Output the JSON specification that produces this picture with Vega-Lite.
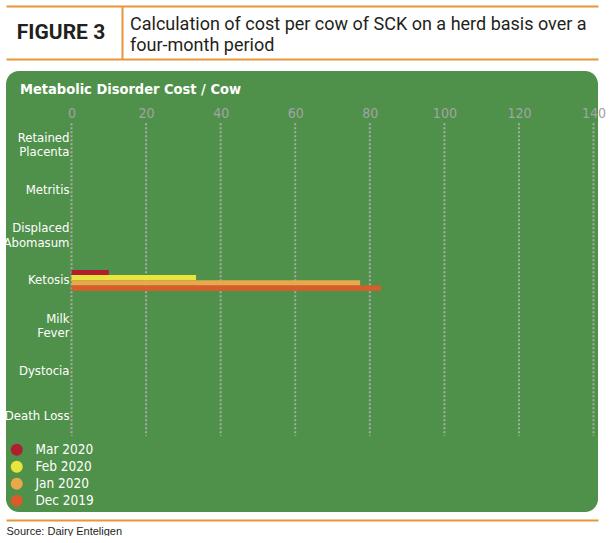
{
  "$schema": "https://vega.github.io/schema/vega-lite/v6.json",
  "padding": {"left": 2, "top": 6, "right": 5, "bottom": 0},
  "background": "white",
  "config": {"view": {"stroke": null}},
  "spacing": 12,
  "resolve": {"scale": {"color": "independent"}, "legend": {"color": "independent"}},
  "vconcat": [
    {
      "spacing": 0,
      "hconcat": [
        {
          "width": 116,
          "height": 53,
          "data": {"values": [{"label": "FIGURE 3"}]},
          "mark": {"type": "text", "font": "Roboto", "fontSize": 21, "fontWeight": "bold", "color": "#231f20", "baseline": "middle", "dx": -3},
          "encoding": {
            "text": {"field": "label"},
            "y": {"field": "label", "type": "nominal", "scale": {"type": "band", "paddingInner": 0, "paddingOuter": 0},
              "axis": {"orient": "right", "domainColor": "#e8953b", "domainWidth": 2, "grid": true, "gridColor": "#e8953b", "gridWidth": 2, "gridOpacity": 1, "tickBand": "extent", "labels": false, "ticks": false, "title": null}}
          }
        },
        {
          "width": 476,
          "height": 53,
          "data": {"values": [
            {"box": "caption", "text": "Calculation of cost per cow of SCK on a herd basis over a\nfour-month period"}
          ]},
          "mark": {"type": "text", "align": "left", "baseline": "middle", "lineBreak": "\n", "lineHeight": 20.5, "dx": 8, "dy": -7.5, "font": "Roboto", "fontSize": 18, "color": "#231f20"},
          "encoding": {
            "text": {"field": "text"},
            "x": {"field": "box", "type": "nominal", "scale": {"type": "point", "align": 0}, "axis": null},
            "y": {"field": "box", "type": "nominal", "scale": {"type": "band", "paddingInner": 0, "paddingOuter": 0},
              "axis": {"orient": "left", "domain": false, "grid": true, "gridColor": "#e8953b", "gridWidth": 2, "gridOpacity": 1, "tickBand": "extent", "labels": false, "ticks": false, "title": null}}
          }
        }
      ]
    },
    {
      "width": 592,
      "height": 441,
      "view": {"fill": "#4f914a", "cornerRadius": 13, "stroke": null},
      "title": {"text": "Metabolic Disorder Cost / Cow", "anchor": "start", "frame": "group", "offset": -26, "dx": 14, "baseline": "top", "color": "white", "fontSize": 14.5, "fontWeight": "bold", "font": "DejaVu Sans Condensed"},
      "resolve": {"axis": {"x": "independent"}},
      "layer": [
        {
          "data": {"values": [{"tick": 0}, {"tick": 20}, {"tick": 40}, {"tick": 60}, {"tick": 80}, {"tick": 100}, {"tick": 120}, {"tick": 140}]},
          "mark": {"type": "rule", "color": "#aaaaaa", "strokeWidth": 2, "strokeDash": [2, 2], "yOffset": -11, "y2Offset": 20},
          "encoding": {
            "x": {"field": "tick", "type": "quantitative", "scale": {"domain": [-17.57, 141.2], "nice": false, "zero": false},
              "axis": {"orient": "top", "offset": -51, "values": [0, 20, 40, 60, 80, 100, 120, 140], "labelColor": "#a3a3a3", "labelFontSize": 14, "labelFont": "DejaVu Sans Condensed", "labelPadding": 2, "ticks": false, "domain": false, "grid": false, "title": null, "labelFlush": false, "labelOverlap": false}},
            "y": {"datum": "Retained Placenta", "type": "nominal", "bandPosition": 0},
            "y2": {"datum": "Death Loss"}
          }
        },
        {
          "data": {"values": [
            {"disorder": "Ketosis", "month": "Mar 2020", "cost": 10},
            {"disorder": "Ketosis", "month": "Feb 2020", "cost": 33.4},
            {"disorder": "Ketosis", "month": "Jan 2020", "cost": 77.4},
            {"disorder": "Ketosis", "month": "Dec 2019", "cost": 83}
          ]},
          "mark": {"type": "bar"},
          "encoding": {
            "x": {"field": "cost", "type": "quantitative", "scale": {"domain": [-17.57, 141.2], "nice": false, "zero": false},
              "axis": {"orient": "bottom", "offset": 8, "domainColor": "#e8953b", "domainWidth": 2, "labels": false, "ticks": false, "grid": false,
                "title": "Source: Dairy Enteligen", "titleAnchor": "start", "titleAlign": "left", "titleBaseline": "top", "titleFont": "Liberation Sans", "titleFontSize": 11, "titleFontWeight": "normal", "titleColor": "#231f20", "titlePadding": 5}},
            "x2": {"datum": 0},
            "y": {"field": "disorder", "type": "nominal",
              "scale": {"domain": ["Retained Placenta", "Metritis", "Displaced Abomasum", "Ketosis", "Milk Fever", "Dystocia", "Death Loss"], "range": [50.9, 367.65], "paddingInner": 0.5425, "paddingOuter": 0.27125},
              "axis": {"orient": "left", "offset": -65, "labelColor": "white", "labelFont": "DejaVu Sans Condensed", "labelFontSize": 13, "labelPadding": 2, "labelLineHeight": 14.5,
                "labelOffset": {"condition": {"test": "indexof(['Retained Placenta', 'Displaced Abomasum', 'Milk Fever'], datum.value) >= 0", "value": -7}, "value": 0},
                "ticks": false, "domain": false, "grid": false, "title": null,
                "labelExpr": "datum.label == 'Retained Placenta' ? ['Retained', 'Placenta'] : datum.label == 'Displaced Abomasum' ? ['Displaced', 'Abomasum'] : datum.label == 'Milk Fever' ? ['Milk', 'Fever'] : datum.label"}},
            "yOffset": {"field": "month", "type": "nominal", "scale": {"domain": ["Mar 2020", "Feb 2020", "Jan 2020", "Dec 2019"], "paddingInner": 0, "paddingOuter": 0}},
            "color": {"field": "month", "type": "nominal",
              "scale": {"domain": ["Mar 2020", "Feb 2020", "Jan 2020", "Dec 2019"], "range": ["#b01f2f", "#e8e63c", "#e9a94b", "#dc5b2b"]},
              "legend": {"orient": "bottom-left", "offset": 4, "title": null, "symbolType": "circle", "symbolSize": 144, "symbolStrokeWidth": 0, "symbolOpacity": 1, "labelColor": "white", "labelFont": "DejaVu Sans Condensed", "labelFontSize": 13.5, "labelOffset": 12, "rowPadding": 2, "padding": 0}}
          }
        }
      ]
    }
  ]
}
